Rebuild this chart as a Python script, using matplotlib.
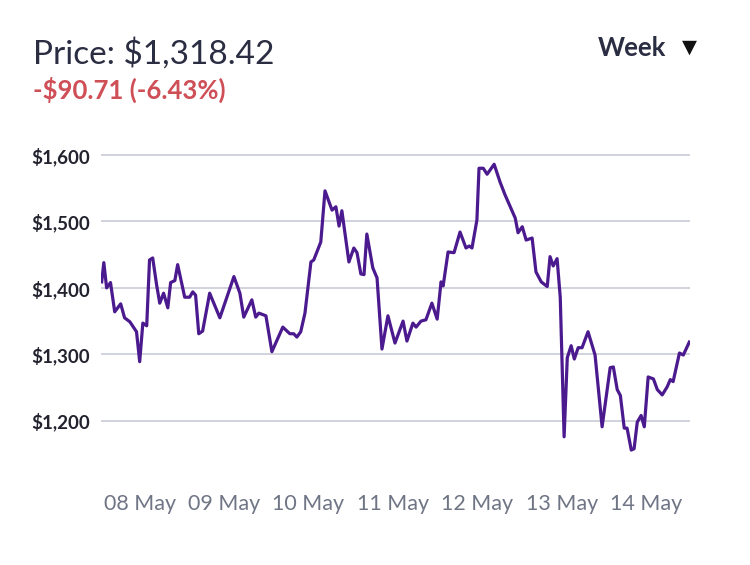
import matplotlib
matplotlib.use('Agg')
import matplotlib.pyplot as plt
from matplotlib.ticker import FuncFormatter

# hours since 08 May 00:00, price in USD
hours = [-10.8, -10.2, -9.4, -8.3, -7.1, -5.4, -4.3, -2.8, -1.4, -0.9,
         0.0, 0.9, 2.0, 2.8, 3.7, 4.8, 5.7, 6.8, 8.0, 8.8,
         10.0, 10.8, 12.8, 14.2, 15.1, 15.9, 16.8, 17.9, 19.9, 22.8,
         26.8, 28.5, 29.6, 31.9, 33.0, 33.9, 35.9, 37.6, 40.7, 42.7,
         43.8, 44.7, 45.8, 47.0, 48.7, 49.5, 51.5, 52.7, 54.7, 55.8,
         56.7, 57.5, 59.5, 60.9, 61.8, 62.9, 63.8, 64.6, 66.3, 67.5,
         68.9, 70.6, 72.6, 74.9, 76.0, 77.7, 78.6, 80.0, 81.4, 83.1,
         84.6, 85.7, 86.3, 87.7, 89.4, 91.1, 92.8, 93.7, 94.5, 95.9,
         96.5, 97.7, 98.8, 100.8, 102.5, 103.9, 106.8, 107.6, 108.8, 109.9,
         111.6, 112.7, 114.2, 115.9, 116.7, 117.6, 118.7, 119.6, 120.7, 121.6,
         122.7, 123.6, 124.7, 125.8, 127.5, 129.5, 131.5, 133.8, 134.7, 135.8,
         136.7, 137.8, 138.6, 139.8, 140.6, 141.5, 142.6, 143.5, 144.6, 146.1,
         147.2, 148.6, 150.0, 150.9, 151.7, 153.5, 154.6, 156.3]
prices = [1409, 1438, 1400, 1408, 1364, 1376, 1355, 1349, 1338, 1334,
          1289, 1347, 1343, 1442, 1445, 1405, 1377, 1392, 1370, 1408,
          1411, 1435, 1386, 1386, 1394, 1389, 1331, 1335, 1392, 1355,
          1417, 1392, 1356, 1382, 1356, 1362, 1358, 1304, 1341, 1331,
          1331, 1326, 1334, 1362, 1439, 1442, 1469, 1546, 1517, 1522,
          1493, 1516, 1439, 1460, 1453, 1421, 1420, 1481, 1430, 1415,
          1308, 1358, 1317, 1350, 1320, 1347, 1341, 1350, 1352, 1377,
          1353, 1409, 1403, 1454, 1453, 1484, 1460, 1463, 1460, 1502,
          1580, 1580, 1571, 1586, 1559, 1540, 1505, 1483, 1492, 1472,
          1475, 1424, 1409, 1402, 1447, 1433, 1444, 1386, 1176, 1295,
          1313, 1293, 1310, 1310, 1334, 1299, 1191, 1280, 1281, 1247,
          1238, 1189, 1189, 1156, 1158, 1198, 1208, 1191, 1266, 1263,
          1247, 1239, 1251, 1262, 1259, 1302, 1299, 1318.42]

day_ticks = [0, 24, 48, 72, 96, 120, 144]
day_labels = ['08 May', '09 May', '10 May', '11 May', '12 May', '13 May', '14 May']
price_ticks = [1200, 1300, 1400, 1500, 1600]

plt.rcParams['font.family'] = ['Lato', 'DejaVu Sans']

fig = plt.figure(figsize=(7.5, 5.65), dpi=100)
ax = fig.add_axes([101/750, 1 - 470/565, 589/750, 330/565])

ax.plot(hours, prices, color='#4b1a8e', linewidth=2.3, solid_joinstyle='round')

ax.set_xlim(-11, 156.5)
ax.set_ylim(1126, 1622.5)
ax.set_yticks(price_ticks)
ax.yaxis.set_major_formatter(FuncFormatter(lambda v, p: '${:,.0f}'.format(v)))
ax.set_xticks(day_ticks)
ax.set_xticklabels(day_labels)

ax.grid(axis='y', color='#cdd0da', linewidth=1.3)
ax.set_axisbelow(True)
for s in ax.spines.values():
    s.set_visible(False)
ax.tick_params(axis='y', length=0, pad=8, labelsize=13.5, labelcolor='#23232f')
ax.tick_params(axis='x', length=0, pad=17, labelsize=15.5, labelcolor='#6f7585')
for t in ax.get_yticklabels():
    t.set_fontweight('bold')

fig.text(33/750, 1 - 64/565, 'Price: $1,318.42', fontsize=24, color='#2b2d42', ha='left', va='baseline')
fig.text(33/750, 1 - 99/565, '-$90.71 (-6.43%)', fontsize=18.5, color='#cf4f57', fontweight='bold', ha='left', va='baseline')
fig.text(598/750, 1 - 56/565, 'Week', fontsize=18.5, color='#2b2d42', fontweight='bold', ha='left', va='baseline')
fig.text(689/750, 1 - 47/565, '\u25bc', fontsize=14, color='#111111', ha='center', va='center',
         family=['DejaVu Sans'])

plt.savefig('out.png', dpi=100)
